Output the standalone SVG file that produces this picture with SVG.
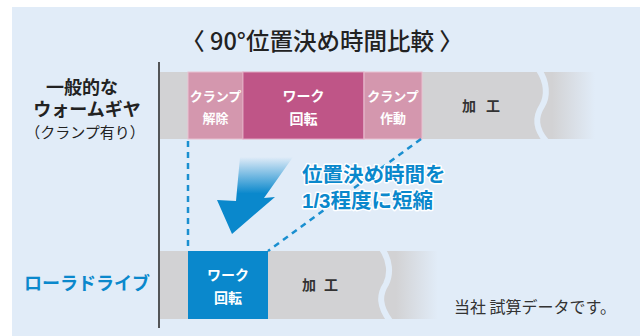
<svg xmlns="http://www.w3.org/2000/svg" width="644" height="336" viewBox="0 0 644 336">
<defs>
<linearGradient id="fade1" gradientUnits="userSpaceOnUse" x1="552" y1="0" x2="595" y2="0">
<stop offset="0" stop-color="#d2d2d4"/><stop offset="1" stop-color="#e1ecf8"/>
</linearGradient>
<linearGradient id="fade2" gradientUnits="userSpaceOnUse" x1="396" y1="0" x2="438" y2="0">
<stop offset="0" stop-color="#d2d2d4"/><stop offset="1" stop-color="#e1ecf8"/>
</linearGradient>
<linearGradient id="arrowGrad" gradientUnits="userSpaceOnUse" x1="0" y1="157" x2="0" y2="200">
<stop offset="0" stop-color="#0a88cc" stop-opacity="0"/><stop offset="0.85" stop-color="#0a88cc"/><stop offset="1" stop-color="#0a88cc"/>
</linearGradient>
</defs>
<style>
text{font-family:"Noto Sans CJK JP","Noto Sans",sans-serif;}
.title{font-size:23.5px;font-weight:500;fill:#222;}
.lab{font-family:"Liberation Sans","Noto Sans CJK JP",sans-serif;font-size:18px;font-weight:700;fill:#222;text-anchor:middle;}
.labs{font-size:15px;font-weight:400;}
.w{font-size:13px;font-weight:700;fill:#fff;text-anchor:middle;}
.wb{font-size:14px;font-weight:700;fill:#fff;text-anchor:middle;}
.k{font-size:14px;font-weight:700;fill:#333;text-anchor:middle;}
.blue{font-family:"Liberation Sans","Noto Sans CJK JP",sans-serif;font-size:20.5px;font-weight:700;fill:#0a88cc;stroke:#fff;stroke-width:3;paint-order:stroke;stroke-linejoin:round;}
.note{font-size:16px;font-weight:400;fill:#333;}
.wave{fill:none;stroke:#e1ecf8;stroke-width:6;}
.dash{fill:none;stroke:#1a8fd0;stroke-width:2.5;stroke-dasharray:6 5;}
</style>
<rect x="12" y="7" width="628" height="329" fill="#e1ecf8"/>
<g id="title"><text class="title" x="322" y="50" text-anchor="middle">〈 90°位置決め時間比較 〉</text></g>
<g id="axis"><line x1="159" y1="62" x2="159" y2="328" stroke="#222" stroke-width="1.5"/></g>
<g id="label-worm">
<text class="lab" x="82" y="94">一般的な</text>
<text class="lab" x="87" y="116">ウォームギヤ</text>
<text class="lab labs" x="85" y="138">（クランプ有り）</text>
</g>
<g id="label-roller"><text class="lab" x="87" y="290" style="fill:#0a88cc">ローラドライブ</text></g>
<g id="bar1">
<rect x="160" y="72" width="395" height="67" fill="#d2d2d4"/>
<rect x="552" y="72" width="45" height="67" fill="url(#fade1)"/>
<path class="wave" d="M539,70 C547,82 548,96 542,106 C535,117 535,128 546,141"/>
<text class="k" x="469" y="111">加</text>
<text class="k" x="493" y="111">工</text>
</g>
<g id="seg-unclamp">
<rect x="188" y="72" width="55" height="67" fill="#d497ae" stroke="#e9c1d1" stroke-width="1"/>
<text class="w" x="215.5" y="101">クランプ</text>
<text class="w" x="215.5" y="123">解除</text>
</g>
<g id="seg-rotate1">
<rect x="243" y="72" width="121" height="67" fill="#bf5587" stroke="#e2a6c0" stroke-width="1"/>
<text class="wb" x="303.5" y="101">ワーク</text>
<text class="wb" x="303.5" y="124">回転</text>
</g>
<g id="seg-clamp">
<rect x="364" y="72" width="58" height="67" fill="#d497ae" stroke="#e9c1d1" stroke-width="1"/>
<text class="w" x="393" y="101">クランプ</text>
<text class="w" x="393" y="123">作動</text>
</g>
<g id="bar2">
<rect x="160" y="251" width="240" height="68" fill="#d2d2d4"/>
<rect x="396" y="251" width="43" height="68" fill="url(#fade2)"/>
<path class="wave" d="M382,249 C390,260 391,274 386,284 C379,295 379,306 390,321"/>
<text class="k" x="309" y="290">加</text>
<text class="k" x="331" y="290">工</text>
</g>
<g id="seg-rotate2">
<rect x="188" y="251" width="80" height="68" fill="#0a88cc"/>
<text class="wb" x="228" y="280">ワーク</text>
<text class="wb" x="228" y="303">回転</text>
</g>
<g id="connectors">
<line class="dash" x1="188" y1="141" x2="188" y2="251"/>
<line class="dash" x1="421" y1="139" x2="268" y2="251"/>
<polygon points="240,157 293,157 264,198 275,197 232,234 217,200 236,201" fill="url(#arrowGrad)"/>
</g>
<g id="callout">
<text class="blue" x="302" y="182">位置決め時間を</text>
<text class="blue" x="302" y="208">1/3程度に短縮</text>
</g>
<g id="note"><text class="note" x="454" y="313">当社 試算データです。</text></g>
</svg>
